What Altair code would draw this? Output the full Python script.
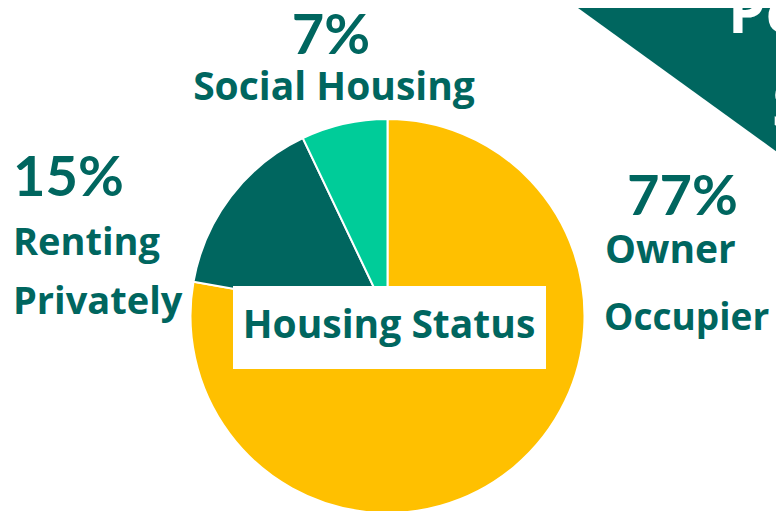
import altair as alt
import pandas as pd

categories = ["Owner Occupier", "Renting Privately", "Social Housing"]
values = [77, 15, 7]
colors = ["#FFC000", "#00665F", "#00CC99"]
order = [1, 2, 3]

TEAL = "#00665F"
WORD_FONT = "Open Sans"
NUM_FONT = "Lato"

df = pd.DataFrame({"category": categories, "value": values, "order": order})

W, H = 768, 503

pie = alt.Chart(df).mark_arc(stroke="white", strokeWidth=2, radius=197).encode(
    theta=alt.Theta("value:Q", stack=True),
    color=alt.Color("category:N", scale=alt.Scale(domain=categories, range=colors), legend=None),
    order=alt.Order("order:Q"),
    x=alt.value(379.5),
    y=alt.value(308),
)

base = alt.Chart(pd.DataFrame({"d": [0]}))

banner = base.mark_point(
    shape="M-1,-1 L1,-1 L1,0.65 L-1,-0.797 Z", filled=True, fill=TEAL, opacity=1, strokeWidth=0
).encode(x=alt.value(667.5), y=alt.value(78.5), size=alt.value(217 * 217))

def txt(text, x, y, size, align="left", color=TEAL, font=WORD_FONT):
    return base.mark_text(
        text=text, font=font, fontWeight="bold", fontSize=size, align=align,
        baseline="alphabetic", color=color,
    ).encode(x=alt.value(x), y=alt.value(y))

box = base.mark_rect(fill="white").encode(
    x=alt.value(225), x2=alt.value(538), y=alt.value(278), y2=alt.value(361)
)

pct = {c: f"{v}%" for c, v in zip(categories, values)}

layers = [
    pie,
    banner,
    txt("Pe", 720, 25, 60, color="white"),
    txt("S", 764, 119, 60, color="white"),
    box,
    txt("Housing Status", 381, 330, 39, align="center"),
    txt(pct["Social Housing"], 323, 46, 56, align="center", font=NUM_FONT),
    txt("Social Housing", 326, 92, 39, align="center"),
    txt(pct["Renting Privately"], 5, 188, 56, font=NUM_FONT),
    txt("Renting", 5, 247, 38),
    txt("Privately", 5, 306, 38),
    txt(pct["Owner Occupier"], 619, 207, 56, font=NUM_FONT),
    txt("Owner", 597, 255, 39),
    txt("Occupier", 596, 322, 37),
]

chart = alt.layer(*layers).properties(
    width=W, height=H, padding=0, autosize=alt.AutoSizeParams(type="none")
).configure_view(stroke=None)

chart.save("out.html", embed_options={"renderer": "svg", "actions": False})
